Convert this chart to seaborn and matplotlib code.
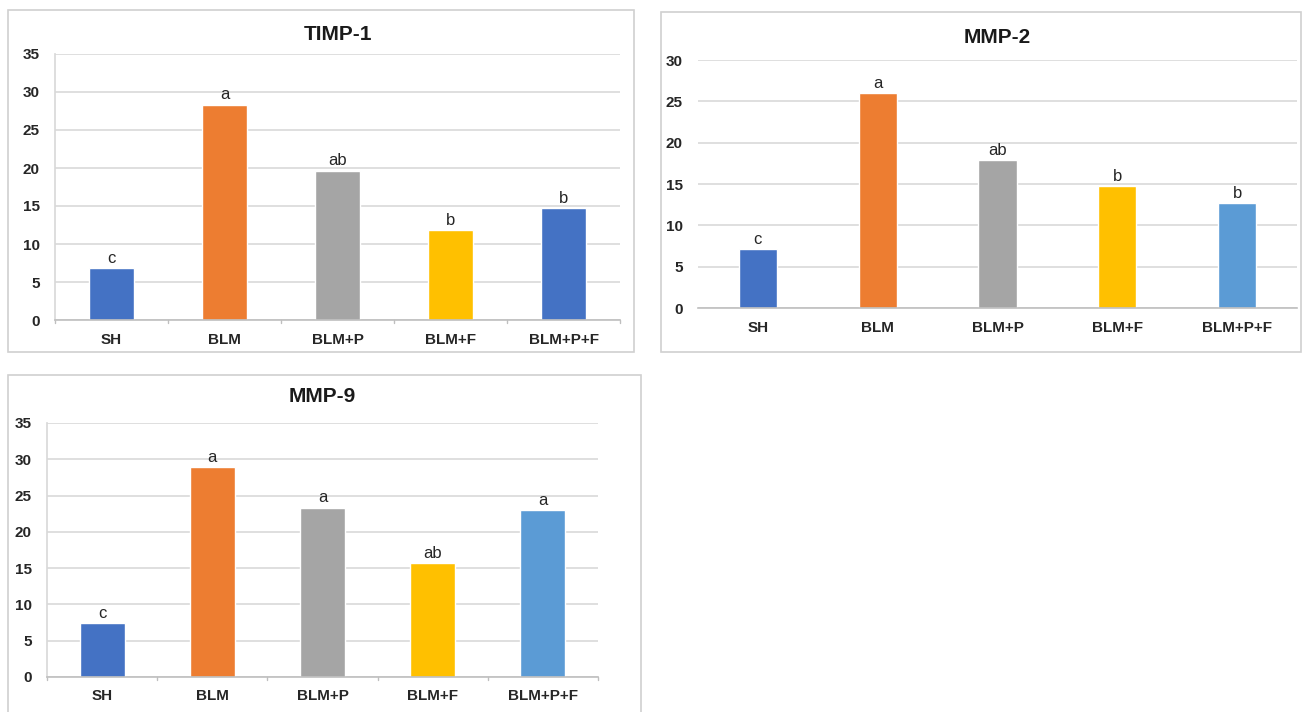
import matplotlib
matplotlib.use("Agg")
import matplotlib.pyplot as plt
from matplotlib.patches import Rectangle
import pandas as pd
import seaborn as sns

groups = ["SH", "BLM", "BLM+P", "BLM+F", "BLM+P+F"]

timp1 = [6.8, 28.3, 19.6, 11.8, 14.7]
mmp2 = [7.1, 26.0, 17.9, 14.7, 12.7]
mmp9 = [7.4, 28.9, 23.3, 15.7, 23.0]

timp1_letters = ["c", "a", "ab", "b", "b"]
mmp2_letters = ["c", "a", "ab", "b", "b"]
mmp9_letters = ["c", "a", "a", "ab", "a"]

colors_timp1 = ["#4472C4", "#ED7D31", "#A5A5A5", "#FFC000", "#4472C4"]
colors_mmp = ["#4472C4", "#ED7D31", "#A5A5A5", "#FFC000", "#5B9BD5"]

sns.set_theme(style="white")
plt.rcParams["font.family"] = ["Liberation Sans", "DejaVu Sans"]

W, H = 1303, 712
fig = plt.figure(figsize=(W / 100, H / 100), dpi=100)
fig.patch.set_facecolor("white")


def px_axes(x0, x1, y0, y1):
    # pixel box (top-left origin) -> figure axes
    return fig.add_axes([x0 / W, 1 - y1 / H, (x1 - x0) / W, (y1 - y0) / H])


def frame(x0, x1, y0, y1):
    fig.patches.append(Rectangle((x0 / W, 1 - y1 / H), (x1 - x0) / W, (y1 - y0) / H,
                                 transform=fig.transFigure, fill=False,
                                 edgecolor="#d0d0d0", linewidth=1.2))


def panel(ax, values, letters, colors, title, ymax, width, left_line, ticks_between, tpad):
    df = pd.DataFrame({"group": groups, "value": values})
    sns.barplot(data=df, x="group", y="value", hue="group", palette=colors,
                width=width, legend=False, ax=ax, saturation=1)
    ax.set_ylim(0, ymax)
    ax.set_xlim(-0.5, len(groups) - 0.5)
    ax.set_yticks(range(0, ymax + 1, 5))
    ax.yaxis.grid(True, color="#d9d9d9", linewidth=1.2)
    ax.set_axisbelow(True)
    for s in ["top", "right"]:
        ax.spines[s].set_visible(False)
    ax.spines["left"].set_visible(left_line)
    ax.spines["left"].set_color("#d9d9d9")
    ax.spines["bottom"].set_color("#bfbfbf")
    ax.spines["bottom"].set_linewidth(1.2)
    ax.set_xlabel("")
    ax.set_ylabel("")
    ax.tick_params(axis="y", length=0, pad=11, labelsize=11)
    ax.tick_params(axis="x", length=0, pad=9, labelsize=11)
    for lab in ax.get_xticklabels() + ax.get_yticklabels():
        lab.set_fontweight("bold")
        lab.set_color("#262626")
    if ticks_between:
        for b in [-0.5, 0.5, 1.5, 2.5, 3.5, 4.5]:
            ax.plot([b, b], [0, -ymax * 0.012], color="#bfbfbf", lw=1.0,
                    clip_on=False)
    for i, (v, t) in enumerate(zip(values, letters)):
        ax.text(i, v + ymax * 0.01, t, ha="center", va="bottom", fontsize=12,
                color="#262626")
    ax.set_title(title, fontsize=15, fontweight="bold", color="#1a1a1a", pad=tpad)


frame(8, 634, 10, 352)
frame(661, 1301, 12, 352)
frame(8, 641, 375, 716)

ax1 = px_axes(55, 620, 54, 320)
panel(ax1, timp1, timp1_letters, colors_timp1, "TIMP-1", 35, 0.4, True, True, 10)

ax2 = px_axes(698, 1297, 60, 308)
panel(ax2, mmp2, mmp2_letters, colors_mmp, "MMP-2", 30, 0.32, False, False, 12)

ax3 = px_axes(47, 598, 423, 677)
panel(ax3, mmp9, mmp9_letters, colors_mmp, "MMP-9", 35, 0.41, True, True, 15)

fig.savefig("out.png", dpi=100)
